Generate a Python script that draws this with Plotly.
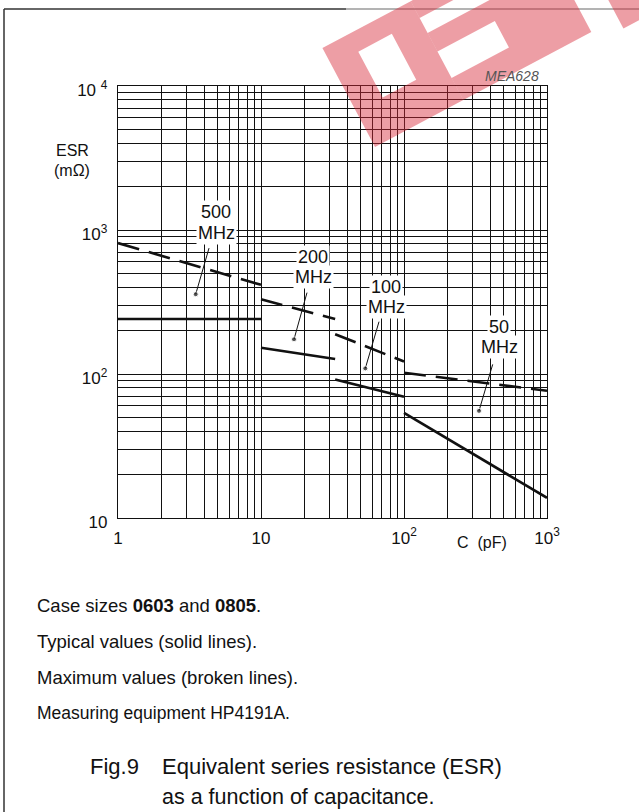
import numpy as np
import plotly.graph_objects as go

# ---------------- data ----------------
C_500 = [1, 10]
ESR_500_max = [811, 416]
ESR_500_typ = [241, 241]

C_200 = [10, 33]
ESR_200_max = [330, 241]
ESR_200_typ = [152, 127]

C_100 = [33, 100]
ESR_100_max = [189, 122]
ESR_100_typ = [91.7, 69.4]

C_50 = [100, 1000]
ESR_50_max = [102, 76.4]
ESR_50_typ = [53.7, 13.8]

freq_labels = ["500", "200", "100", "50"]

x_tick_vals = [1, 10, 100, 1000]
x_tick_text = ["1", "10", "10<sup>2</sup>", "10<sup>3</sup>"]
y_tick_vals = [10, 100, 1000, 10000]
y_tick_text = ["10", "10<sup>2</sup>", "10<sup>3</sup>", "10 <sup>4</sup>"]

x_minor = [m * d for d in (1, 10, 100) for m in range(2, 10)]
y_minor = [m * d for d in (10, 100, 1000) for m in range(2, 10)]

notes = [
    "Case sizes <b>0603</b> and <b>0805</b>.",
    "Typical values (solid lines).",
    "Maximum values (broken lines).",
    "Measuring equipment HP4191A.",
]
caption_fig = "Fig.9"
caption_1 = "Equivalent series resistance (ESR)"
caption_2 = "as a function of capacitance."

# ---------------- layout geometry ----------------
W, H = 639, 812
L, R, T, B = 118, 547, 86, 518
PW, PH = R - L, B - T


def px(xp):
    return (xp - L) / PW


def py(yp):
    return (B - yp) / PH


FONT = "Liberation Sans, Arial, Helvetica, sans-serif"
BLACK = "#111111"

fig = go.Figure()

segments = [
    (C_500, ESR_500_max, ESR_500_typ),
    (C_200, ESR_200_max, ESR_200_typ),
    (C_100, ESR_100_max, ESR_100_typ),
    (C_50, ESR_50_max, ESR_50_typ),
]
for c, mx, ty in segments:
    fig.add_trace(go.Scatter(x=c, y=mx, mode="lines",
                             line=dict(color=BLACK, width=2.6, dash="22px,10px"),
                             hoverinfo="skip", showlegend=False))
    fig.add_trace(go.Scatter(x=c, y=ty, mode="lines",
                             line=dict(color=BLACK, width=2.6),
                             hoverinfo="skip", showlegend=False))

# label placement (log10 units): text centre, leader start, leader dot
label_text_pos = [(0.6853, 3.1246, 2.9826), (1.3657, 2.8156, 2.6764),
                  (1.8741, 2.6068, 2.4676), (2.6664, 2.3243, 2.1851)]
leader_start = [(0.6364, 2.874), (1.3217, 2.565), (1.8252, 2.3633), (2.6203, 2.0668)]
leader_dot = [(0.5434, 2.554), (1.2308, 2.241), (1.7294, 2.039), (2.5245, 1.744)]

annotations = []
for lab, (tx, ty1, ty2), (sx, sy), (dx, dy) in zip(freq_labels, label_text_pos,
                                                    leader_start, leader_dot):
    fig.add_trace(go.Scatter(x=[10 ** sx, 10 ** dx], y=[10 ** sy, 10 ** dy],
                             mode="lines+markers",
                             line=dict(color=BLACK, width=1),
                             marker=dict(size=[0, 5], color=BLACK),
                             hoverinfo="skip", showlegend=False))
    for t, yy in ((lab, ty1), ("MHz", ty2)):
        annotations.append(dict(x=tx, y=yy, xref="x", yref="y", text=t,
                                xanchor="center", yanchor="middle",
                                showarrow=False, bgcolor="white", borderpad=1,
                                font=dict(family=FONT, size=18, color=BLACK)))


def note(x, y, text, size, anchor="center", color=BLACK):
    return dict(x=px(x), y=py(y), xref="paper", yref="paper", text=text,
                xanchor=anchor, yanchor="middle", showarrow=False,
                font=dict(family=FONT, size=size, color=color))


annotations += [
    note(72, 150, "ESR", 16),
    note(72, 170, "(m\u03a9)", 16),
    note(482, 542, "C  (pF)", 16),
    note(541, 76, "<i>MEA628</i>", 14, anchor="right", color="#555555"),
]
note_sizes = [18.5, 18.5, 18.5, 17.5]
for i, (n, s) in enumerate(zip(notes, note_sizes)):
    annotations.append(note(35, 605 + 36 * i, n, s, anchor="left"))
annotations.append(note(88, 766, caption_fig, 22, anchor="left"))
annotations.append(note(160, 766, caption_1, 22, anchor="left"))
annotations.append(note(160, 797, caption_2, 21.5, anchor="left"))

# frame lines of the figure
shapes = [
    dict(type="line", xref="paper", yref="paper", x0=px(4), x1=px(346), y0=py(9), y1=py(9),
         line=dict(color="#333333", width=1.5)),
    dict(type="line", xref="paper", yref="paper", x0=px(346), x1=px(639), y0=py(9), y1=py(9),
         line=dict(color="#9a9a9a", width=1.5)),
    dict(type="line", xref="paper", yref="paper", x0=px(4), x1=px(4), y0=py(9), y1=py(812),
         line=dict(color="#333333", width=1.5)),
]

# watermark: logo drawn in its own rotated frame (origin at its lower-left corner)
WM_O = (375.0, 147.0)
WM_ANG = np.deg2rad(28.0)
wm_letters = [
    # outer outline, optional hole (reverse winding)
    ([(0, 0), (100, 0), (100, 112), (0, 112)],
     [(30, 40), (68, 40), (68, 92), (30, 92)]),
    ([(100, 0), (245, 0), (245, 112), (100, 112), (100, 93), (180, 93), (180, 76),
      (100, 76), (100, 55), (165, 55), (165, 25), (100, 25)], None),
    ([(275, -12), (420, -12), (420, 112), (275, 112)], None),
]


def wm_to_px(X, Y):
    c, s = np.cos(WM_ANG), np.sin(WM_ANG)
    return WM_O[0] + c * X - s * Y, WM_O[1] - s * X - c * Y


def wm_path(pts, reverse=False):
    pts = list(reversed(pts)) if reverse else pts
    out = []
    for i, (X, Y) in enumerate(pts):
        xx, yy = wm_to_px(X, Y)
        out.append(("M" if i == 0 else "L") + f" {px(xx):.4f},{py(yy):.4f}")
    return " ".join(out) + " Z"


for outer, hole in wm_letters:
    path = wm_path(outer)
    if hole is not None:
        path += " " + wm_path(hole, reverse=True)
    shapes.append(dict(type="path", xref="paper", yref="paper", path=path,
                       fillcolor="rgb(215,40,55)", opacity=0.45, line=dict(width=0),
                       layer="above"))

axis_common = dict(type="log", showline=True, mirror=True, linecolor=BLACK, linewidth=1.2,
                   showgrid=True, gridcolor=BLACK, gridwidth=1, zeroline=False,
                   ticks="", tickfont=dict(family=FONT, size=17, color=BLACK))

fig.update_layout(
    width=W, height=H,
    margin=dict(l=L, r=W - R, t=T, b=H - B, pad=0),
    paper_bgcolor="white", plot_bgcolor="white",
    xaxis=dict(axis_common, range=[0, 3], tickvals=x_tick_vals, ticktext=x_tick_text,
               ticklabelstandoff=4,
               minor=dict(tickvals=x_minor, showgrid=True, gridcolor=BLACK, gridwidth=1, ticks="")),
    yaxis=dict(axis_common, range=[1, 4], tickvals=y_tick_vals, ticktext=y_tick_text,
               ticklabelstandoff=6, ticklabelshift=4,
               minor=dict(tickvals=y_minor, showgrid=True, gridcolor=BLACK, gridwidth=1, ticks="")),
    annotations=annotations,
    shapes=shapes,
    showlegend=False,
)

fig.write_html("out.html", config={"displayModeBar": False, "staticPlot": True},
               post_script="document.body.style.margin='0';document.body.style.overflow='hidden';")
